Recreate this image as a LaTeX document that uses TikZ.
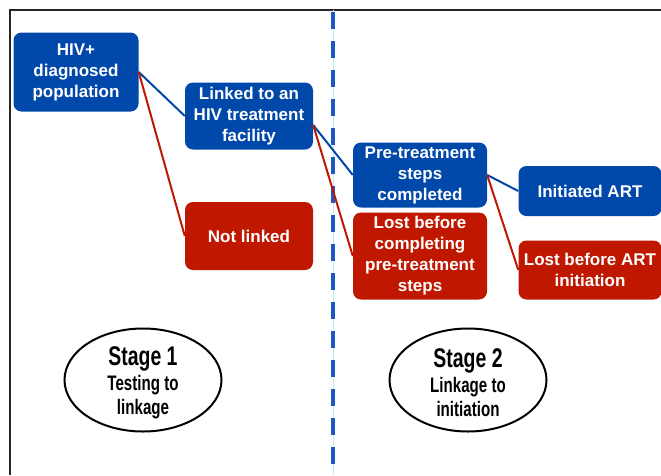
\documentclass[tikz,border=0pt]{standalone}
\usepackage{fontspec}
\usetikzlibrary{shapes.geometric}
\setmainfont{Liberation Sans}
\newfontfamily\narrowfont[FakeStretch=0.72]{Liberation Sans}
\definecolor{boxblue}{RGB}{0,72,170}
\definecolor{boxred}{RGB}{192,24,0}
\definecolor{dashblue}{RGB}{28,88,196}
\begin{document}
\begin{tikzpicture}[
  x=1pt, y=-1pt,
  box/.style={rectangle,rounded corners=8pt,inner sep=0pt,text=white,align=center,
    font=\bfseries\fontsize{17}{21}\selectfont},
  blue box/.style={box,fill=boxblue},
  red box/.style={box,fill=boxred},
  stage/.style={ellipse,draw,line width=2pt,minimum width=157pt,minimum height=103pt,inner sep=0pt},
  stage text/.style={align=center,inner sep=0pt,font=\narrowfont\bfseries\fontsize{21}{24}\selectfont},
  keep/.style={draw=boxblue,line width=2pt},
  drop/.style={draw=boxred,line width=2pt}
]
  \useasboundingbox (0,0) rectangle (661,475);
  \draw[line width=2pt,black!85] (10,475) |- (661,10);

  % stage divider
  \draw[cyan!25,line width=0.8pt] (333,10) -- (333,475);
  \draw[dashblue,line width=4pt,dash pattern=on 17pt off 12pt] (333,12) -- (333,475);

  \node[blue box,minimum width=125pt,minimum height=79pt] (hiv) at (76,72) {HIV+\\diagnosed\\population};
  \node[blue box,minimum width=128pt,minimum height=67pt] (linked) at (249,116) {Linked to an\\HIV treatment\\facility};
  \node[red box,minimum width=128pt,minimum height=68pt] (notlinked) at (249,236) {Not linked};
  \node[blue box,minimum width=134pt,minimum height=65pt] (pretreat) at (420,175) {Pre-treatment\\steps\\completed};
  \node[red box,minimum width=134pt,minimum height=87pt] (lostpre) at (420,256) {Lost before\\completing\\pre-treatment\\steps};
  \node[blue box,minimum width=143pt,minimum height=50pt] (initart) at (590,191) {Initiated ART};
  \node[red box,minimum width=143pt,minimum height=59pt] (lostart) at (590,270) {Lost before ART\\initiation};

  \draw[keep] (hiv.east) -- (linked.west);
  \draw[drop] (hiv.east) -- (notlinked.west);
  \draw[keep] (linked.-8) -- (pretreat.west);
  \draw[drop] (linked.-8) -- (lostpre.west);
  \draw[keep] (pretreat.east) -- (initart.west);
  \draw[drop] (pretreat.east) -- (lostart.west);

  \node[stage] (stageone) at (143,380) {};
  \node[stage] (stagetwo) at (468,380) {};
  \node[stage text] (stageonetext) at ([yshift=-3pt]stageone.center) {\fontsize{27}{30}\selectfont Stage 1\\[1pt]
    Testing to\\linkage};
  \node[stage text] (stagetwotext) at ([yshift=-3pt]stagetwo.center) {\fontsize{27}{30}\selectfont Stage 2\\[1pt]
    Linkage to\\initiation};
\end{tikzpicture}
\end{document}
